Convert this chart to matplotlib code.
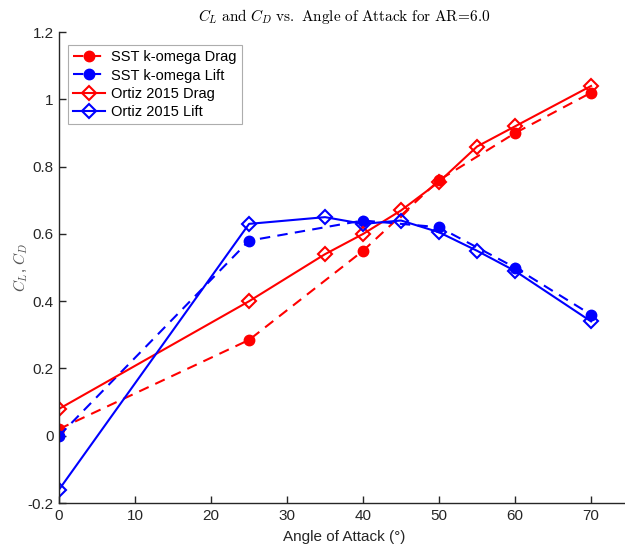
import matplotlib
matplotlib.use('Agg')
import matplotlib.pyplot as plt
import numpy as np

plt.rcParams['font.family'] = ['Liberation Sans', 'DejaVu Sans']
plt.rcParams['mathtext.fontset'] = 'cm'

# data
sst_x = [0, 25, 40, 50, 60, 70]
sst_drag = [0.02, 0.285, 0.55, 0.76, 0.90, 1.02]
sst_lift = [0.0, 0.58, 0.64, 0.62, 0.50, 0.36]

ortiz_x = [0, 25, 35, 40, 45, 50, 55, 60, 70]
ortiz_drag = [0.08, 0.40, 0.54, 0.60, 0.67, 0.755, 0.86, 0.92, 1.04]
ortiz_lift = [-0.16, 0.63, 0.65, 0.63, 0.64, 0.605, 0.55, 0.49, 0.34]

xticks = [0, 10, 20, 30, 40, 50, 60, 70]
yticks = [-0.2, 0, 0.2, 0.4, 0.6, 0.8, 1.0, 1.2]
ytick_labels = ['-0.2', '0', '0.2', '0.4', '0.6', '0.8', '1', '1.2']

fig = plt.figure(figsize=(6.25, 5.45), dpi=100)
ax = fig.add_axes([0.0945, 0.077, 0.912, 0.864])

ax.plot(sst_x, sst_drag, '--', color='#ff0000', marker='o', ms=7.5, lw=1.5,
        dashes=(5, 3.5), label='SST k-omega Drag')
ax.plot(sst_x, sst_lift, '--', color='#0000ff', marker='o', ms=7.5, lw=1.5,
        dashes=(5, 3.5), label='SST k-omega Lift')
ax.plot(ortiz_x, ortiz_drag, '-', color='#ff0000', marker='D', ms=7.5, lw=1.5,
        mfc='none', mew=1.5, label='Ortiz 2015 Drag')
ax.plot(ortiz_x, ortiz_lift, '-', color='#0000ff', marker='D', ms=7.5, lw=1.5,
        mfc='none', mew=1.5, label='Ortiz 2015 Lift')

ax.set_xlim(0, 75)
ax.set_ylim(-0.2, 1.2)
ax.set_xticks(xticks)
ax.set_yticks(yticks)
ax.set_yticklabels(ytick_labels)

for s in ['top', 'right']:
    ax.spines[s].set_visible(False)
for s in ['left', 'bottom']:
    ax.spines[s].set_color('#262626')
    ax.spines[s].set_linewidth(1.0)
ax.tick_params(direction='in', length=5, width=1.0, colors='#262626',
               labelsize=11, pad=4)

ax.set_xlabel('Angle of Attack (°)', fontsize=11, color='#262626', labelpad=5)
ax.set_ylabel(r'$C_L$, $C_D$', fontsize=11, color='#555555', labelpad=-2)
ax.set_title(r'$C_L\ \mathrm{and}\ C_D\ \mathrm{vs.\ Angle\ of\ Attack\ for\ AR\!=\!6.0}$',
             fontsize=11, pad=8)

leg = ax.legend(loc='upper left', bbox_to_anchor=(0.016, 0.972), fontsize=10.5,
                frameon=True, fancybox=False, edgecolor='#999999',
                handlelength=2.2, handletextpad=0.4, borderpad=0.35,
                labelspacing=0.28, borderaxespad=0.0)
leg.get_frame().set_linewidth(0.8)

fig.savefig('out.png', dpi=100)
